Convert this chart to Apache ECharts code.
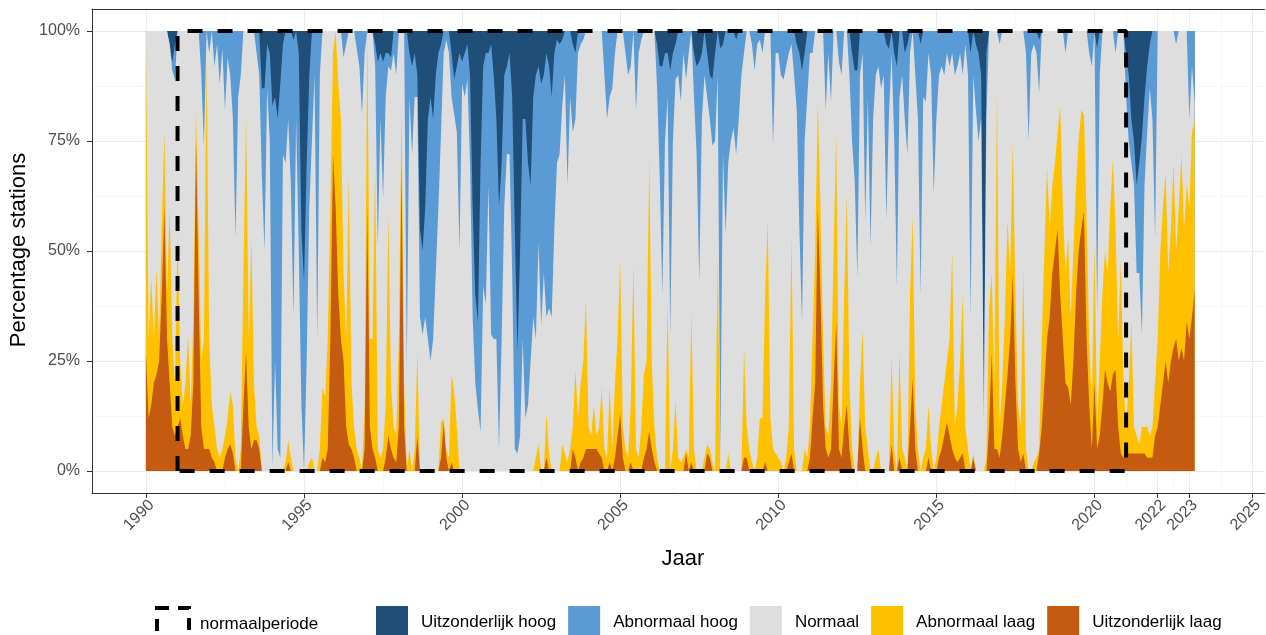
<!DOCTYPE html>
<html>
<head>
<meta charset="utf-8">
<script src="https://cdn.jsdelivr.net/npm/echarts@6/dist/echarts.min.js"></script>
<style>
  html, body { margin: 0; padding: 0; background: #ffffff; }
  #chart { width: 1266px; height: 635px; }
</style>
</head>
<body>
<div id="chart"></div>
<script>
// Monthly share of stations (%) per class, January 1990 onwards.
const startYear = 1990;

const uitzonderlijkLaag = [
  27,12,15,20,22,25,40,60,30,20,10,8,      // 1990
  10,12,8,5,5,8,20,75,40,10,5,5,           // 1991
  5,3,2,0,0,0,3,5,6,4,0,0,                 // 1992
  0,15,27,10,5,7,7,5,0,0,0,0,              // 1993
  0,0,0,0,0,0,2,0,0,0,0,0,                 // 1994
  0,0,0,0,0,0,0,3,2,5,30,72,               // 1995
  60,40,30,25,10,6,5,3,0,0,0,5,            // 1996
  60,10,5,3,0,0,0,3,8,5,3,2,               // 1997
  10,69,10,0,0,0,0,8,0,0,0,0,              // 1998
  0,0,0,0,3,11,3,0,2,0,0,0,                // 1999
  0,0,0,0,0,0,0,0,0,0,0,0,                 // 2000
  0,0,0,0,0,0,0,0,0,0,0,0,                 // 2001
  0,0,0,0,0,0,0,0,3,0,0,0,                 // 2002
  0,0,0,0,0,0,5,3,0,2,3,5,                 // 2003
  5,5,5,5,4,3,0,0,2,0,3,8,                 // 2004
  13,3,0,0,2,0,0,0,0,3,5,9,                // 2005
  5,2,0,0,0,0,0,0,0,0,0,0,                 // 2006
  0,4,0,2,0,0,0,0,0,4,3,0,                 // 2007
  0,0,0,0,0,0,0,0,0,0,0,3,                 // 2008
  3,0,0,0,0,0,0,2,0,0,0,0,                 // 2009
  0,0,0,0,2,4,0,0,0,0,0,0,                 // 2010
  3,12,20,60,40,15,5,3,5,20,34,5,          // 2011
  3,10,15,5,0,0,0,12,5,0,0,0,              // 2012
  0,0,0,0,0,0,0,6,0,0,3,0,                 // 2013
  0,0,10,21,5,0,0,0,0,3,0,0,               // 2014
  0,3,5,8,11,8,5,3,2,3,4,0,                // 2015
  0,0,3,0,0,0,0,0,10,27,5,5,               // 2016
  3,8,15,22,30,45,20,5,2,4,0,0,            // 2017
  0,0,0,4,10,20,30,35,45,50,55,40,         // 2018
  30,20,19,15,25,40,50,55,59,30,15,5,      // 2019
  20,5,8,15,23,20,18,22,23,10,4,3,         // 2020
  5,4,4,4,4,4,4,4,3,3,3,8,                 // 2021
  10,15,20,25,20,25,28,30,25,28,25,34,     // 2022
  30,35,41                                 // 2023
];

const abnormaalLaag = [
  73,18,29,10,24,5,15,17,10,40,20,12,
  44,13,7,15,26,7,15,7,15,15,25,89,
  25,12,8,5,3,5,5,7,12,11,3,0,
  5,30,54,20,48,13,3,3,0,0,0,0,
  0,0,0,0,0,2,5,3,0,0,0,0,
  0,0,2,3,0,0,5,16,15,25,30,23,
  40,48,50,20,20,61,15,7,5,3,0,10,
  40,20,25,67,5,3,5,12,50,15,7,6,
  20,13,10,0,5,0,5,19,0,0,0,0,
  0,0,0,0,8,1,2,3,20,18,10,0,
  0,0,0,0,0,0,0,0,0,0,0,0,
  0,0,0,0,0,0,0,0,0,0,0,0,
  0,0,0,0,3,6,0,0,10,4,0,0,
  0,0,6,4,2,5,5,20,12,18,22,34,
  5,3,10,3,6,16,5,3,17,5,17,22,
  35,7,5,3,13,47,5,3,10,19,20,62,
  19,8,3,0,0,0,39,0,5,16,3,2,
  3,1,3,34,5,0,0,0,3,2,2,2,
  0,49,0,0,0,4,0,0,0,0,0,25,
  7,5,2,0,3,12,12,38,57,12,5,4,
  3,2,0,3,8,50,5,0,0,0,5,3,
  7,18,30,24,20,15,5,5,15,30,43,10,
  7,30,48,15,5,0,0,8,27,10,5,0,
  0,3,5,0,0,0,0,20,5,0,24,5,
  3,0,30,37,10,5,0,3,5,12,5,0,
  3,7,10,12,14,22,45,7,13,22,36,10,
  5,0,1,0,0,0,0,3,27,18,15,82,
  7,12,20,35,15,30,20,10,8,42,5,0,
  0,2,3,1,20,30,39,20,20,20,22,43,
  30,25,34,20,25,25,25,27,22,28,15,10,
  32,5,17,25,27,25,42,49,32,20,44,17,
  5,16,30,6,4,2,6,6,7,5,7,12,
  20,35,40,43,25,30,42,20,35,44,30,31,
  30,42,39
];

const abnormaalHoog = [
  0,0,0,0,0,0,0,0,0,0,2,8,
  0,0,0,0,0,0,0,0,0,10,26,0,
  5,0,8,3,12,4,18,6,10,20,47,15,
  10,0,0,0,0,0,5,10,20,37,10,20,
  82,60,75,85,25,30,20,35,63,20,45,40,
  43,45,30,25,10,70,10,0,0,0,0,0,
  0,0,0,6,3,0,0,0,4,8,19,5,
  0,0,0,5,42,15,31,10,3,3,5,10,
  0,0,0,76,10,20,10,5,20,19,25,50,
  60,50,45,35,20,5,2,5,10,8,15,45,
  5,10,8,20,25,20,20,61,50,57,30,66,
  60,50,55,40,30,20,23,40,50,23,42,50,
  68,55,40,50,60,40,55,45,60,55,50,40,
  28,25,15,10,35,15,20,15,5,3,2,0,
  0,0,0,0,0,0,10,20,15,13,5,0,
  0,0,5,10,8,0,18,5,2,0,0,0,
  0,0,10,25,52,20,10,60,20,8,10,16,
  5,11,5,0,10,20,50,15,10,10,10,15,
  20,10,92,25,46,30,25,22,26,20,10,5,
  0,0,3,9,3,2,5,0,0,0,26,5,
  5,10,11,8,5,3,10,15,40,57,20,15,
  5,5,0,0,0,0,18,5,16,0,0,7,
  10,0,0,10,20,25,47,10,5,43,15,49,
  20,10,8,13,10,40,15,5,20,50,15,10,
  15,25,5,0,10,20,57,15,16,5,10,37,
  20,10,8,10,5,8,5,10,8,5,10,3,
  10,60,10,15,20,10,3,15,0,0,0,0,
  3,0,0,0,0,0,0,0,0,0,5,25,
  5,3,5,12,0,0,0,0,0,0,0,0,
  0,5,0,0,0,0,0,0,0,0,5,8,
  0,60,10,0,0,0,0,0,5,0,0,0,
  10,15,10,10,20,25,45,20,15,10,20,47,
  0,0,0,0,0,0,0,3,0,0,0,0,
  20,8,16
];

const uitzonderlijkHoog = [
  0,0,0,0,0,0,0,0,0,3,7,3,
  0,0,0,0,0,0,0,0,0,0,0,0,
  0,0,0,0,0,0,0,0,0,0,0,0,
  0,0,0,0,0,0,0,0,13,13,3,5,
  17,15,20,12,3,0,0,0,2,0,5,45,
  57,30,10,0,0,0,0,0,0,0,0,0,
  0,0,0,0,0,0,0,0,0,0,0,0,
  0,0,0,3,7,5,7,5,5,6,0,0,
  0,0,0,0,5,8,5,10,45,50,40,20,
  15,20,10,5,3,0,0,0,5,11,8,5,
  7,5,3,10,40,60,66,30,8,5,5,3,
  10,20,40,30,10,8,5,15,45,73,50,20,
  20,30,35,15,10,8,12,10,5,8,15,5,
  2,3,2,0,0,0,3,5,0,0,0,0,
  0,0,0,0,0,0,0,0,0,0,0,0,
  0,0,0,0,0,0,0,0,0,0,0,0,
  0,0,3,8,8,5,5,9,5,3,0,0,
  0,0,0,0,5,8,7,5,0,5,10,11,
  5,0,4,3,0,0,0,0,2,0,0,0,
  0,0,0,0,0,0,0,0,0,0,0,0,
  0,0,0,0,0,0,0,3,5,9,5,0,
  0,0,0,0,0,0,0,0,0,0,0,0,
  0,0,0,0,5,9,9,0,0,0,0,0,
  0,0,0,0,0,3,4,0,5,8,0,0,
  5,3,0,0,0,0,3,0,0,0,0,0,
  0,0,0,0,0,0,0,0,0,0,0,0,
  0,5,0,3,5,10,85,5,0,0,0,0,
  0,0,0,0,0,0,0,0,0,0,0,0,
  0,0,0,2,0,0,0,0,0,0,0,0,
  0,0,0,0,0,0,0,0,0,0,0,0,
  0,4,0,0,0,0,0,0,0,0,0,0,
  5,10,20,25,35,30,24,15,8,3,0,0,
  0,0,0,0,0,0,0,0,0,0,0,0,
  0,0,0
];

// Axis breaks
const xTicks = [1990, 1995, 2000, 2005, 2010, 2015, 2020, 2022, 2023, 2025];
const xMinorTicks = [1992.5, 1997.5, 2002.5, 2007.5, 2012.5, 2017.5, 2021, 2022.5, 2024];
const yTicks = [0, 25, 50, 75, 100];
const yMinorTicks = [12.5, 37.5, 62.5, 87.5];

// Climate normal period 1991-2020 (start of 1991 to end of 2020)
const normaalperiode = [1991, 2021];

const FONT = '"Liberation Sans", Arial, sans-serif';
const colors = {
  'Uitzonderlijk hoog': '#1f4e79',
  'Abnormaal hoog': '#5b9bd5',
  'Normaal': '#dedede',
  'Abnormaal laag': '#ffc000',
  'Uitzonderlijk laag': '#c55a11'
};

// Decimal year of each monthly value
const months = uitzonderlijkLaag.map((_, i) => startYear + i / 12);
// Stations in the normal class make up the rest of 100%
const normaal = months.map((_, i) =>
  100 - uitzonderlijkLaag[i] - abnormaalLaag[i] - abnormaalHoog[i] - uitzonderlijkHoog[i]);

// Classes from the bottom of the stack to the top
const stackOrder = [
  ['Uitzonderlijk laag', uitzonderlijkLaag],
  ['Abnormaal laag', abnormaalLaag],
  ['Normaal', normaal],
  ['Abnormaal hoog', abnormaalHoog],
  ['Uitzonderlijk hoog', uitzonderlijkHoog]
];

// Running totals: each band is filled from 0 up to its cumulative top and
// painted over the band above it, which yields the stacked bands.
const cumulative = [];
stackOrder.forEach(([name, vals], k) => {
  const prev = k > 0 ? cumulative[k - 1].tops : null;
  cumulative.push({ name, tops: vals.map((v, i) => (prev ? prev[i] : 0) + v) });
});

const bandSeries = cumulative.map((band) => {
  const c = colors[band.name];
  return {
    name: band.name,
    type: 'line',
    data: months.map((t, i) => [t, band.tops[i]]),
    symbol: 'none',
    showSymbol: false,
    lineStyle: { width: 0, opacity: 0 },
    areaStyle: { color: c, opacity: 1, origin: 'auto' },
    itemStyle: { color: c },
    silent: true,
    z: 2
  };
}).reverse();   // topmost band first, lowest band painted last

const xMin = 1988.294, xMax = 2025.379;
const yMin = -5, yMax = 105;
const borderColor = '#333333';

const chart = echarts.init(document.getElementById('chart'), null, { renderer: 'canvas' });

const option = {
  animation: false,
  backgroundColor: '#ffffff',
  grid: {
    left: 92, top: 9, right: 0, height: 484,
    show: false, containLabel: false
  },
  xAxis: [
    {
      type: 'value', min: xMin, max: xMax, position: 'bottom',
      axisLine: { show: true, onZero: false, lineStyle: { color: borderColor, width: 1 } },
      axisTick: { show: true, length: 5, customValues: xTicks, lineStyle: { color: borderColor, width: 1 } },
      axisLabel: {
        show: true, customValues: xTicks, rotate: 45, margin: 4,
        verticalAlign: 'top',
        color: '#4d4d4d', fontSize: 16, fontFamily: FONT,
        formatter: v => String(Math.round(v))
      },
      splitLine: { show: true, lineStyle: { color: '#ebebeb', width: 1 } }
    },
    {
      type: 'value', min: xMin, max: xMax, position: 'top',
      axisLine: { show: true, onZero: false, lineStyle: { color: borderColor, width: 1 } },
      axisTick: { show: false, customValues: xMinorTicks },
      axisLabel: { show: false, customValues: xMinorTicks },
      splitLine: { show: true, lineStyle: { color: '#f2f2f2', width: 0.6 } }
    }
  ],
  yAxis: [
    {
      type: 'value', min: yMin, max: yMax, position: 'left',
      axisLine: { show: true, onZero: false, lineStyle: { color: borderColor, width: 1 } },
      axisTick: { show: true, length: 5, customValues: yTicks, lineStyle: { color: borderColor, width: 1 } },
      axisLabel: {
        show: true, customValues: yTicks, margin: 12,
        color: '#4d4d4d', fontSize: 16, fontFamily: FONT,
        formatter: v => Math.round(v) + '%'
      },
      splitLine: { show: true, lineStyle: { color: '#ebebeb', width: 1 } }
    },
    {
      type: 'value', min: yMin, max: yMax, position: 'right',
      axisLine: { show: false },
      axisTick: { show: false, customValues: yMinorTicks },
      axisLabel: { show: false, customValues: yMinorTicks },
      splitLine: { show: true, lineStyle: { color: '#f2f2f2', width: 0.6 } }
    }
  ],
  legend: [
    {
      left: 155, top: 606, padding: 0, itemWidth: 32, itemHeight: 32, selectedMode: false,
      textStyle: { fontSize: 17, color: '#000000', fontFamily: FONT, padding: [0, 0, 0, 6] },
      data: [{
        name: 'normaalperiode', icon: 'rect',
        itemStyle: { color: 'rgba(255,255,255,0)', borderColor: '#000000', borderWidth: 4, borderType: [12, 9] }
      }]
    },
    {
      left: 376, top: 606, padding: 0, itemWidth: 32, itemHeight: 32, itemGap: 12, selectedMode: false,
      textStyle: { fontSize: 17, color: '#000000', fontFamily: FONT, padding: [0, 0, 0, 8] },
      data: ['Uitzonderlijk hoog', 'Abnormaal hoog', 'Normaal', 'Abnormaal laag', 'Uitzonderlijk laag']
        .map(n => ({ name: n, icon: 'rect', itemStyle: { color: colors[n], borderWidth: 0 } }))
    }
  ],
  graphic: [
    {
      type: 'text', x: 683, y: 548,
      style: { text: 'Jaar', font: '22px ' + FONT, fill: '#000000', align: 'center', verticalAlign: 'top' }
    },
    {
      type: 'text', x: 8, y: 250, rotation: Math.PI / 2,
      style: { text: 'Percentage stations', font: '22px ' + FONT, fill: '#000000', align: 'center', verticalAlign: 'top' }
    }
  ],
  series: bandSeries.concat([
    {
      name: 'normaalperiode',
      type: 'line',
      data: [
        [normaalperiode[0], yTicks[0]],
        [normaalperiode[0], yTicks[yTicks.length - 1]],
        [normaalperiode[1], yTicks[yTicks.length - 1]],
        [normaalperiode[1], yTicks[0]],
        [normaalperiode[0], yTicks[0]]
      ],
      symbol: 'none',
      lineStyle: { color: '#000000', width: 4, type: [15, 15] },
      itemStyle: { color: '#000000' },
      silent: true,
      z: 10
    }
  ])
};

chart.setOption(option);
</script>
</body>
</html>
